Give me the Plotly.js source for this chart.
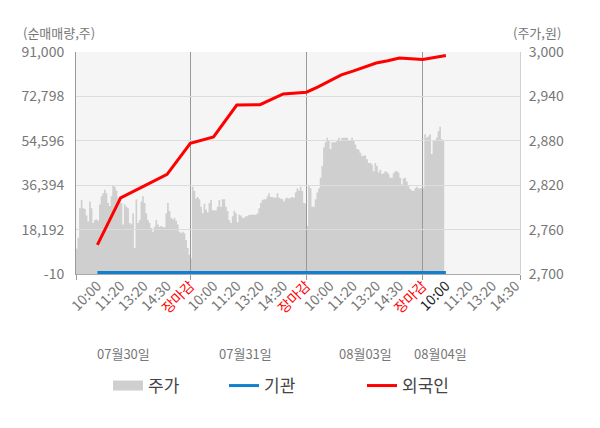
<!DOCTYPE html>
<html>
<head>
<meta charset="utf-8">
<script src="https://cdn.plot.ly/plotly-3.0.1.min.js"></script>
<style>
  html, body { margin: 0; padding: 0; background: #fff; }
  #chart { width: 600px; height: 428px; }
</style>
</head>
<body>
<div id="chart"></div>
<script>
// trading days and the intraday tick labels (5 slots per day)
const days = ["07월30일", "07월31일", "08월03일", "08월04일"];
const slotLabels = ["10:00", "11:20", "13:20", "14:30", "장마감"];
const slotsPerDay = 5;
const samplesPerDay = 70;

// share price (주가, 원), intraday samples per day
const priceDay1 = [2734, 2749, 2789, 2800, 2789, 2788, 2779, 2771, 2798, 2789, 2769, 2773, 2774, 2772, 2794, 2805, 2809, 2814, 2809, 2796,
  2792, 2805, 2819, 2818, 2813, 2803, 2798, 2796, 2767, 2794, 2791, 2789, 2769, 2767, 2782, 2735, 2801, 2769, 2773, 2798,
  2805, 2796, 2782, 2773, 2769, 2762, 2757, 2764, 2773, 2767, 2764, 2765, 2764, 2763, 2782, 2796, 2785, 2776, 2774, 2776,
  2772, 2767, 2757, 2755, 2757, 2755, 2746, 2735, 2726, 2721];
const priceDay2 = [2818, 2812, 2802, 2804, 2801, 2791, 2782, 2795, 2787, 2783, 2796, 2800, 2786, 2786, 2786, 2791, 2800, 2791, 2801, 2801,
  2791, 2785, 2773, 2769, 2778, 2785, 2782, 2770, 2780, 2779, 2776, 2776, 2778, 2778, 2780, 2780, 2780, 2780, 2780, 2782,
  2789, 2796, 2800, 2801, 2801, 2805, 2809, 2804, 2804, 2803, 2803, 2809, 2803, 2802, 2801, 2798, 2802, 2803, 2802, 2803,
  2804, 2803, 2810, 2816, 2813, 2818, 2812, 2796, 2795, 2765];
const priceDay3 = [2819, 2816, 2791, 2791, 2801, 2810, 2816, 2830, 2846, 2871, 2878, 2884, 2880, 2869, 2878, 2878, 2878, 2881, 2884, 2881,
  2884, 2884, 2884, 2884, 2880, 2880, 2884, 2880, 2875, 2869, 2868, 2864, 2859, 2860, 2860, 2855, 2850, 2850, 2848, 2839,
  2850, 2846, 2837, 2841, 2835, 2836, 2839, 2838, 2835, 2830, 2830, 2836, 2839, 2839, 2837, 2830, 2821, 2829, 2830, 2825,
  2819, 2815, 2813, 2812, 2816, 2818, 2816, 2816, 2816, 2816];
const priceDay4 = [2889, 2884, 2886, 2889, 2862, 2880, 2880, 2884, 2893, 2899, 2882, 2881, 2890];

// cumulative net volume (순매매량, 주) at time slots
const flowSlots = [1, 2, 3, 4, 5, 6, 7, 8, 9, 10, 10.5, 11, 11.5, 12, 12.5, 13, 13.5, 14, 14.5, 15, 15.5, 16];
const foreign = [11950, 31210, 36000, 40820, 53600, 56200, 69270, 69400, 73810, 74510, 76700, 79250, 81650, 83170, 84860,
  86470, 87380, 88530, 88240, 87950, 88740, 89600];
const institution = [600, 600, 600, 600, 600, 600, 600, 600, 600, 600, 600, 600, 600, 600, 600,
  600, 600, 600, 600, 600, 600, 600];

const volTicks = [-10, 18192, 36394, 54596, 72798, 91000];
const priceTicks = [2700, 2760, 2820, 2880, 2940, 3000];

// build price x (slot units) from sample index
let priceX = [], priceY = [];
[priceDay1, priceDay2, priceDay3, priceDay4].forEach(function (arr, d) {
  arr.forEach(function (v, i) {
    priceX.push(d * slotsPerDay + (i + 1) * slotsPerDay / samplesPerDay);
    priceY.push(v);
  });
});

const xRange = [0.08, 19.19];
const dayBounds = [5, 10, 15];

// tick labels: 5 per day, last day cut at 14:30
let tickVals = [], tickText = [];
days.forEach(function (day, d) {
  slotLabels.forEach(function (lab, k) {
    let pos = d * slotsPerDay + k + 1;
    if (pos > xRange[1]) return;
    let txt = lab;
    if (lab === "장마감") txt = '<span style="color:#ff0000">' + lab + '</span>';
    else if (d === days.length - 1 && k === 0) txt = '<span style="color:#222">' + lab + '</span>';
    tickVals.push(pos);
    tickText.push(txt);
  });
});

const font = "Noto Sans CJK KR, Noto Sans, sans-serif";
const fmt = function (v) { return v.toLocaleString("en-US"); };

let data = [
  {
    type: "scatter", mode: "lines", name: "주가",
    x: priceX, y: priceY, xaxis: "x", yaxis: "y",
    line: { width: 0, shape: "hv", color: "#cfcfcf" },
    fill: "tozeroy", fillcolor: "#cfcfcf",
    showlegend: false, hoverinfo: "skip"
  },
  // legend entry for the price area (box-shaped key)
  {
    type: "scatter", mode: "lines", name: "주가",
    x: [null], y: [null], xaxis: "x", yaxis: "y",
    line: { width: 15, color: "#cfcfcf" },
    legend: "legend"
  },
  {
    type: "scatter", mode: "lines", name: "기관",
    x: flowSlots, y: institution, xaxis: "x2", yaxis: "y2",
    line: { width: 3, color: "#1380cf" },
    legend: "legend2"
  },
  {
    type: "scatter", mode: "lines", name: "외국인",
    x: flowSlots, y: foreign, xaxis: "x2", yaxis: "y2",
    line: { width: 3, color: "#ff0000" },
    legend: "legend3"
  }
];

// plot area in pixels, for placing the texts outside it
const plotL = 76, plotW = 444, plotB = 274, plotH = 222;
const px = function (x) { return (x - plotL) / plotW; };
const py = function (y) { return (plotB - y) / plotH; };

// date labels under the time ticks
const dateCenters = [123, 245, 365, 440];
let annotations = days.map(function (d, i) {
  return {
    text: d, xref: "paper", yref: "paper", x: px(dateCenters[i]), y: py(353),
    showarrow: false, xanchor: "center", yanchor: "middle",
    font: { family: font, size: 13, color: "#777" }
  };
});
annotations.push({
  text: "(순매매량,주)", xref: "paper", yref: "paper", x: px(21), y: py(32),
  xanchor: "left", yanchor: "middle", showarrow: false,
  font: { family: font, size: 13, color: "#777" }
});
annotations.push({
  text: "(주가,원)", xref: "paper", yref: "paper", x: px(563), y: py(32),
  xanchor: "right", yanchor: "middle", showarrow: false,
  font: { family: font, size: 13, color: "#777" }
});

function legendAt(x) {
  return {
    orientation: "h", xref: "container", yref: "container",
    x: x / 600, y: 1 - 386 / 428, xanchor: "left", yanchor: "middle",
    bgcolor: "rgba(0,0,0,0)", itemwidth: 30,
    font: { family: font, size: 17, color: "#444" }
  };
}

let layout = {
  width: 600, height: 428,
  margin: { l: 76, r: 80, t: 52, b: 154 },
  paper_bgcolor: "#ffffff",
  plot_bgcolor: "rgba(0,0,0,0)",
  font: { family: font, color: "#777" },
  showlegend: true,
  legend: legendAt(108),
  legend2: legendAt(224),
  legend3: legendAt(362),
  shapes: [{
    type: "rect", xref: "paper", yref: "paper", x0: 0, x1: 1, y0: 0, y1: 1,
    fillcolor: "#f5f5f5", line: { width: 0 }, layer: "below"
  }],
  annotations: annotations,
  xaxis: {
    anchor: "y", range: xRange, tickvals: tickVals, ticktext: tickText,
    tickangle: -45, showgrid: false, zeroline: false, showline: false, ticks: "",
    tickfont: { family: font, size: 14, color: "#777" }
  },
  yaxis: {
    anchor: "x", side: "right", range: [2700, 3000], tickvals: priceTicks, ticktext: priceTicks.map(fmt),
    showgrid: false, zeroline: false, showline: true, linecolor: "#d0d0d0",
    ticklabelstandoff: 5,
    tickfont: { family: font, size: 14, color: "#777" }
  },
  xaxis2: {
    anchor: "y2", range: xRange, tickvals: [xRange[0]].concat(dayBounds, [xRange[1]]),
    showticklabels: false, ticks: "outside", ticklen: 5, tickcolor: "#999",
    showgrid: true, gridcolor: "#999", zeroline: false, showline: true, linecolor: "#aaa"
  },
  yaxis2: {
    anchor: "x2", side: "left", range: [-10, 91000], tickvals: volTicks, ticktext: volTicks.map(fmt),
    showgrid: true, gridcolor: "#dcdcdc", zeroline: false, showline: true, linecolor: "#999",
    ticklabelstandoff: 8,
    tickfont: { family: font, size: 14, color: "#777" }
  }
};

Plotly.newPlot("chart", data, layout, { staticPlot: true });
</script>
</body>
</html>
